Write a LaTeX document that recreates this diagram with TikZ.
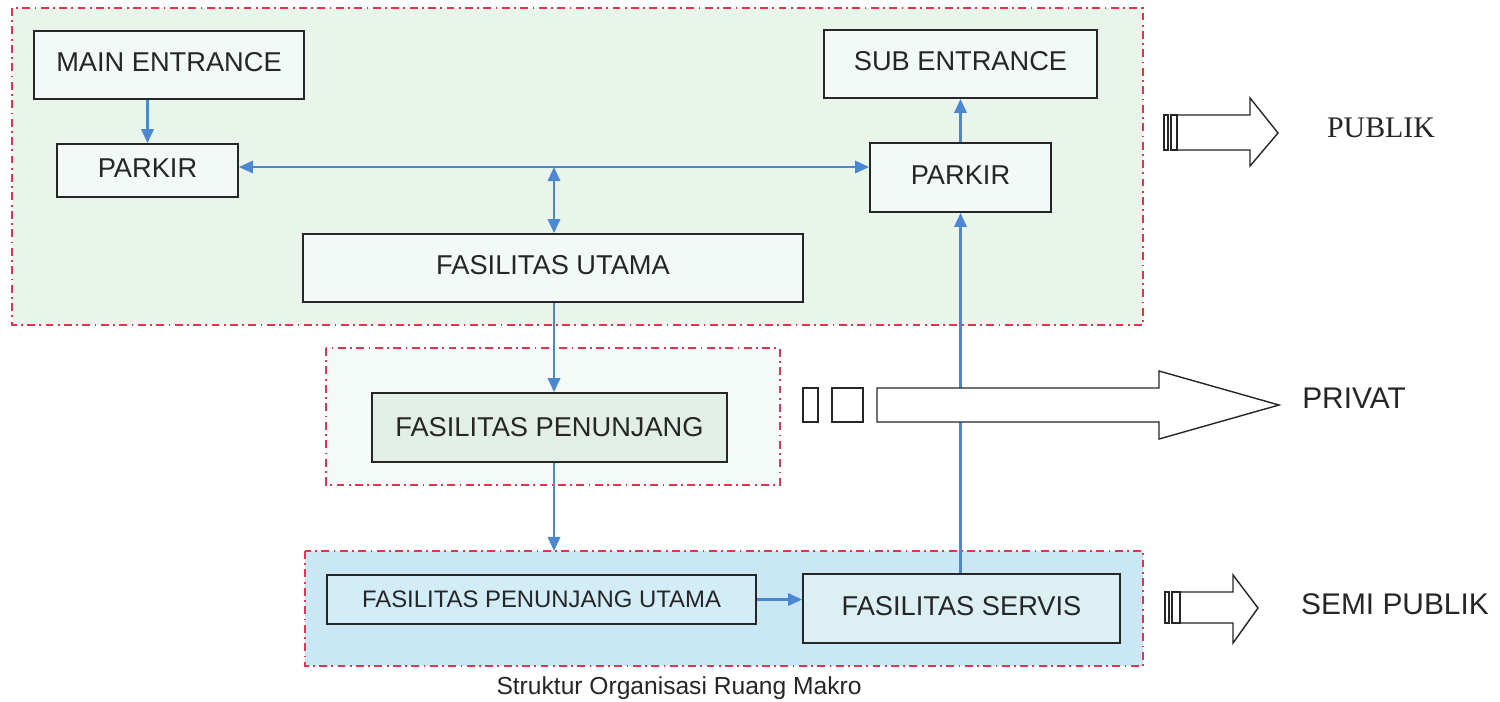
\documentclass[tikz,border=0pt]{standalone}
\usepackage{fontspec}
\usetikzlibrary{arrows.meta}
\newfontfamily\arialf{Liberation Sans}
\newfontfamily\timesf{Liberation Serif}

\definecolor{zoneRed}{RGB}{232,48,80}
\definecolor{flowBlue}{RGB}{75,135,211}
\definecolor{zoneGreen}{RGB}{233,244,235}
\definecolor{boxGreen}{RGB}{243,249,246}
\definecolor{zoneMint}{RGB}{243,250,247}
\definecolor{boxMint}{RGB}{226,239,230}
\definecolor{zoneBlue}{RGB}{201,231,245}
\definecolor{boxBlue}{RGB}{211,237,248}
\definecolor{boxBlueB}{RGB}{220,239,243}

\tikzset{
  zone/.style={draw=zoneRed, line width=1.1pt,
    dash pattern=on 4.5pt off 2.5pt on 1pt off 2.5pt},
  roombox/.style={draw=black!85, line width=1pt, rectangle, inner sep=0pt,
    font=\arialf\fontsize{15.5}{18}\selectfont, text=black!85},
  flow/.style={draw=flowBlue, line width=1.4pt,
    -{Triangle[length=8pt,width=7pt]}},
  flowboth/.style={draw=flowBlue, line width=1.4pt,
    {Triangle[length=8pt,width=7pt]}-{Triangle[length=8pt,width=7pt]}},
  blockarrow/.style={draw=black!85, line width=0.8pt, fill=white, line join=miter},
  zonelabel/.style={font=\arialf\fontsize{17}{20}\selectfont, text=black!85}
}

\begin{document}
\begin{tikzpicture}[x=0.02cm, y=-0.02cm]
\useasboundingbox (0,0) rectangle (1500,701);
\fill[white] (0,0) rectangle (1500,701);

% zones
\filldraw[zone, fill=zoneGreen] (12,8) rectangle (1143,325);
\filldraw[zone, fill=zoneMint] (326,348) rectangle (780,485);
\filldraw[zone, fill=zoneBlue] (305,551) rectangle (1143,666);

% rooms
\node[roombox, fill=boxGreen, minimum width=5.4cm, minimum height=1.36cm]
  (main) at (169,65) {MAIN ENTRANCE\vphantom{g}};
\node[roombox, fill=boxGreen, minimum width=3.62cm, minimum height=1.06cm]
  (parkL) at (147.5,170.5) {PARKIR\vphantom{g}};
\node[roombox, fill=boxGreen, minimum width=5.46cm, minimum height=1.36cm]
  (sub) at (960.5,64) {SUB ENTRANCE\vphantom{g}};
\node[roombox, fill=boxGreen, minimum width=3.62cm, minimum height=1.38cm]
  (parkR) at (960.5,177.5) {PARKIR\vphantom{g}};
\node[roombox, fill=boxGreen, minimum width=10cm, minimum height=1.36cm]
  (utama) at (553,268) {FASILITAS UTAMA\vphantom{g}};
\node[roombox, fill=boxMint, minimum width=7.1cm, minimum height=1.38cm]
  (penunjang) at (549.5,427.5) {FASILITAS PENUNJANG};
\node[roombox, fill=boxBlue, minimum width=8.58cm, minimum height=0.98cm,
  font=\arialf\fontsize{13.6}{16}\selectfont]
  (fpu) at (541.5,599.5) {FASILITAS PENUNJANG UTAMA};
\node[roombox, fill=boxBlueB, minimum width=6.34cm, minimum height=1.38cm]
  (servis) at (961.5,608.5) {FASILITAS SERVIS\vphantom{g}};

% circulation
\coordinate (hub) at (554,167);
\coordinate (semiTop) at (554,551);
\draw[flow] (main.south -| parkL) -- (parkL.north);
\draw[flowboth] (parkL.east |- hub) -- (parkR.west |- hub);
\draw[flowboth] (hub) -- (hub |- utama.north);
\draw[flow] (hub |- utama.south) -- (hub |- penunjang.north);
\draw[flow] (hub |- penunjang.south) -- (semiTop);
\draw[flow] (fpu.east) -- (servis.west |- fpu.east);
\draw[flow] (servis.north -| parkR) -- (parkR.south);
\draw[flow] (parkR.north) -- (sub.south);

% zone markers: publik
\draw[blockarrow] (1177,115) -- (1250,115) -- (1250,98) -- (1278,133)
  -- (1250,166) -- (1250,150) -- (1177,150) -- cycle;
\draw[blockarrow] (1164,115) rectangle (1168,150);
\draw[blockarrow] (1171,115) rectangle (1177,150);
\node[font=\timesf\fontsize{17}{20}\selectfont, text=black!85] (lblPublik) at (1381,128) {PUBLIK};

% zone markers: privat
\draw[blockarrow] (803,388) rectangle (818,422);
\draw[blockarrow] (832,388) rectangle (863,422);
\draw[blockarrow] (877,388) -- (1159,388) -- (1159,371) -- (1279,405)
  -- (1159,439) -- (1159,422) -- (877,422) -- cycle;
\node[zonelabel] (lblPrivat) at (1354,398) {PRIVAT};

% zone markers: semi publik
\draw[blockarrow] (1180,592) -- (1233,592) -- (1233,575) -- (1258,608)
  -- (1233,643) -- (1233,623) -- (1180,623) -- cycle;
\draw[blockarrow] (1165,592) rectangle (1169,623);
\draw[blockarrow] (1172,592) rectangle (1180,623);
\node[zonelabel] (lblSemi) at (1395,604) {SEMI PUBLIK};

% caption
\node[font=\arialf\fontsize{14}{17}\selectfont, text=black!85] (caption) at (679,688)
  {Struktur Organisasi Ruang Makro};
\end{tikzpicture}
\end{document}
